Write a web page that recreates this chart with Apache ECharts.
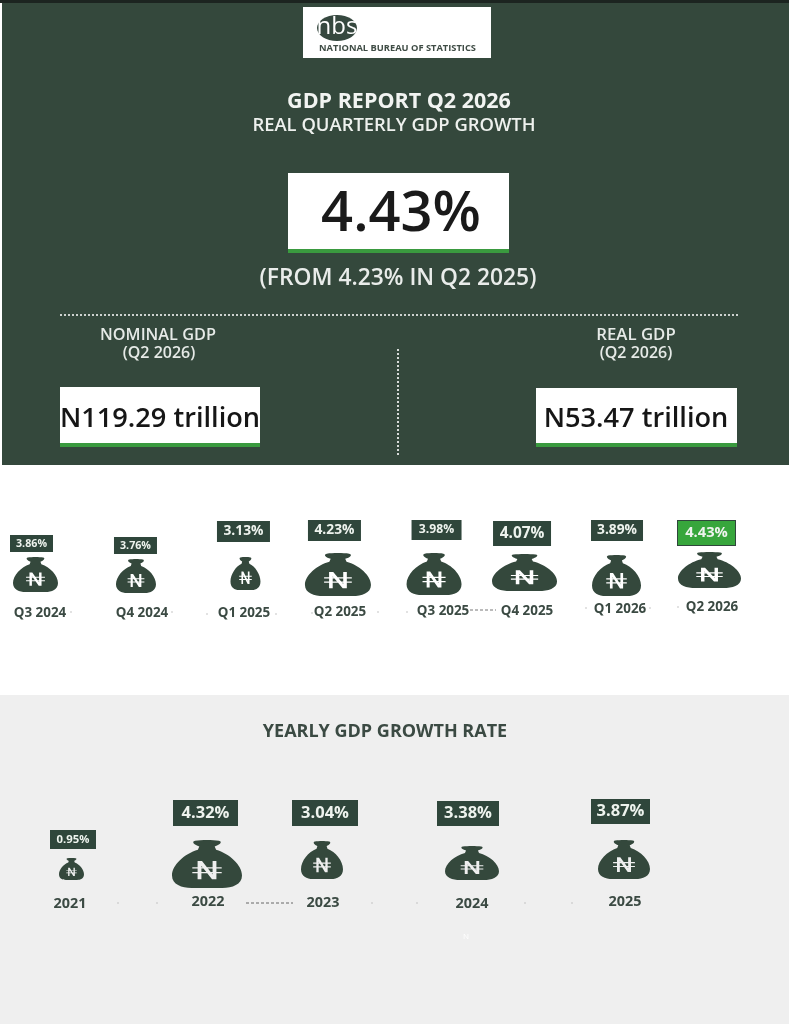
<!DOCTYPE html>
<html>
<head>
<meta charset="utf-8">
<style>html,body{margin:0;padding:0;background:#fff}#c{width:789px;height:1024px}</style>
<script src="https://cdn.jsdelivr.net/npm/echarts@6/dist/echarts.min.js"></script>
</head>
<body>
<div id="c"></div>
<script>
// ---------- data ----------
const quarters = ['Q3 2024','Q4 2024','Q1 2025','Q2 2025','Q3 2025','Q4 2025','Q1 2026','Q2 2026'];
const quarterGrowth = [3.86,3.76,3.13,4.23,3.98,4.07,3.89,4.43];
const years = ['2021','2022','2023','2024','2025'];
const yearGrowth = [0.95,4.32,3.04,3.38,3.87];
const headlineGrowth = '4.43%';
const previousGrowth = '(FROM 4.23% IN Q2 2025)';
const nominalGdp = 'N119.29 trillion';
const realGdp = 'N53.47 trillion';

// ---------- styling and nudges (px, relative to each category's position) ----------
const DARK='#34483c', CHIP='#2f463b', GREEN='#3a9a3f', INK='#3b4a43', GREY='#efefef';
const quarterStyle = {
  bagSize:[[45,35],[40,34],[30,33],[66,43],[55,42],[65,37],[49,41],[63,36]],
  bagNudge:[[.5,-.5],[4.7,1],[17.9,-1.5],[14.1,-.5],[13.9,-1],[8.1,-2.5],[3.8,.5],[.5,-5]],
  chipSize:[[43,17],[43,17],[53,21],[53,21],[50,20],[58,25],[52,21],[57,24]],
  chipNudge:[[-3.5,-31.5],[4.2,-29.5],[15.9,-43.5],[10.6,-44.5],[16.4,-45],[5.6,-41.5],[4.3,-44.5],[-2.5,-42]],
  chipFont:[10.7,10.7,13.8,13.8,12.2,15.4,13.8,14.7],
  nameNudge:[[5,38],[10.7,38],[16.4,38],[16.1,37],[22.9,36],[10.6,36],[7.3,34],[3,32]],
  nameFont:13.4, highlight:7, glyph:.42
};
const yearStyle = {
  bagSize:[[25,22],[70,48],[42,38],[54,34],[52,39]],
  bagNudge:[[.5,4],[-2.25,-1],[-25.5,-5],[-13.75,-2],[0,-5.5]],
  chipSize:[[46,19],[65,26],[66,26],[62,25],[59,25]],
  chipNudge:[[2,-25.5],[-3.75,-52],[-22.5,-52],[-17.75,-51.5],[-3.5,-53.5]],
  chipFont:[11.3,16.5,16.5,16.5,16.5],
  nameNudge:[[-1,39],[-1.25,37],[-24.5,38],[-13.75,39],[1,37]],
  nameFont:14.4, highlight:-1, glyph:.42
};
const BAG='path://M33 1C42 -1 58 -1 67 1C73 3 68 10 61 13L63 20C82 28 100 52 100 74C100 93 86 100 72 100L28 100C14 100 0 93 0 74C0 52 18 28 37 20L39 13C32 10 27 3 33 1Z';
const NAIRA='path://M18 0L31 0L31 100L18 100ZM69 0L82 0L82 100L69 100ZM18 0L33 0L82 100L67 100ZM0 33L100 33L100 41L0 41ZM0 59L100 59L100 67L0 67Z';
const FONT='"Open Sans","Noto Sans",sans-serif';

function rowSeries(cats, vals, st, axis, bg){
  const base = {type:'scatter', xAxisIndex:axis, yAxisIndex:axis, silent:true, animation:false};
  const pts = vals.map((v,i)=>[cats[i],0,v]);
  const bags = Object.assign({},base,{name:'bag',z:3,data:pts.map((p,i)=>({
    value:p, symbol:BAG, symbolSize:st.bagSize[i], symbolOffset:st.bagNudge[i],
    itemStyle:{color:DARK,opacity:1}}))});
  const marks = Object.assign({},base,{name:'naira',z:4,data:pts.map((p,i)=>{
    const s=st.bagSize[i];
    return {value:p, symbol:NAIRA,
      symbolSize:[s[0]*st.glyph,s[1]*.38],
      symbolOffset:[st.bagNudge[i][0],st.bagNudge[i][1]+s[1]*.13],
      itemStyle:{color:bg,opacity:1}};
  })});
  const chips = Object.assign({},base,{name:'growth',z:5,data:pts.map((p,i)=>{
    const c=st.chipSize[i], hi=i===st.highlight;
    return {value:p, symbol:'circle', symbolSize:1, itemStyle:{color:'rgba(0,0,0,0)',opacity:1},
      label:{show:true, position:'inside', offset:st.chipNudge[i],
        formatter:o=>o.value[2].toFixed(2)+'%',
        width:c[0], height:c[1]-2, lineHeight:c[1]-2, padding:[2,0,0,0], align:'center', verticalAlign:'middle',
        backgroundColor:hi?'#37a63c':CHIP, borderColor:hi?CHIP:'transparent', borderWidth:hi?1:0,
        color:'#eef3ee', fontFamily:FONT, fontWeight:700, fontSize:st.chipFont[i]}};
  })});
  const names = Object.assign({},base,{name:'period',z:5,data:pts.map((p,i)=>({
    value:p, symbol:'circle', symbolSize:1, itemStyle:{color:'rgba(0,0,0,0)',opacity:1},
    label:{show:true, position:'inside', offset:st.nameNudge[i], formatter:o=>o.value[0],
      color:INK, fontFamily:FONT, fontWeight:700, fontSize:st.nameFont}
  }))});
  return [bags,marks,chips,names];
}

function rect(x,y,w,h,fill){return {type:'rect',shape:{x,y,width:w,height:h},style:{fill},silent:true};}
function txt(x,y,t,size,fill,weight,z){return {type:'text',x,y:y+1.5,z:z||1,silent:true,style:{text:t,fill,font:(weight||700)+' '+size+'px '+FONT,textAlign:'center',textVerticalAlign:'middle'}};}
function dash(x1,y1,x2,y2,c,w,d){return {type:'line',shape:{x1,y1,x2,y2},silent:true,style:{stroke:c,lineWidth:w,lineDash:d}};}
const specks=[[71,612],[172,612],[207,614],[276,614],[312,613],[378,612],[407,612],[586,608],[650,608],[678,607],[118,903],[157,903],[372,903],[417,903],[525,903],[572,903]];

const graphic=[
  rect(0,0,789,1024,'#ffffff'),
  rect(2,3,787,462,DARK),
  rect(0,0,789,3,'#1c2420'),
  rect(0,695,789,329,GREY),
  // logo
  rect(303,7,188,51,'#ffffff'),
  {type:'ellipse',shape:{cx:337,cy:28,rx:20,ry:13},style:{fill:'#36483f'},silent:true},
  txt(337,26,'nbs',24,'#ffffff',400),
  txt(397.5,47,'NATIONAL BUREAU OF STATISTICS',9.3,'#3f4c45',700),
  // headline
  txt(399,100,'GDP REPORT Q2 2026',21.5,'#f2f4f2',700),
  txt(394,124,'REAL QUARTERLY GDP GROWTH',18.4,'#eef1ee',600),
  rect(288,173,221,80,'#ffffff'), rect(288,249,221,4,GREEN),
  txt(401,214,headlineGrowth,56,'#1a1a1a',600),
  txt(398,277,previousGrowth,22.8,'#e9ecea',600),
  dash(60,315,738,315,'#ffffff',1.6,[2,2]),
  dash(398,349,398,456,'#ffffff',1.6,[2,2]),
  txt(158,334,'NOMINAL GDP',16.3,'#e6eae7',600),
  txt(159,352,'(Q2 2026)',16,'#e6eae7',600),
  txt(636,334,'REAL GDP',16.8,'#e6eae7',600),
  txt(636,352,'(Q2 2026)',16,'#e6eae7',600),
  rect(60,387,200,60,'#ffffff'), rect(60,443,200,4,GREEN),
  txt(160,418,nominalGdp,27.2,'#161616',600),
  rect(536,388,201,59,'#ffffff'), rect(536,443,201,4,GREEN),
  txt(636,418,realGdp,27.2,'#161616',600),
  // yearly section
  txt(385,730,'YEARLY GDP GROWTH RATE',18,INK,700),
  dash(470,610,496,610,'#777777',1,[3,2]),
  dash(246,903,293,903,'#666666',1,[3,2]),
  txt(466,935,'N',8,'#ffffff',400)
].concat(specks.map(p=>({type:'circle',shape:{cx:p[0],cy:p[1],r:.8},style:{fill:'#bdbdbd'},silent:true})));

const axisOff={show:false};
const option={
  backgroundColor:'#ffffff', animation:false, graphic:{elements:graphic},
  grid:[
    {left:35,width:674,top:565,height:20},
    {left:71,width:553,top:855,height:20}
  ],
  xAxis:[
    Object.assign({type:'category',data:quarters,boundaryGap:false,gridIndex:0},axisOff),
    Object.assign({type:'category',data:years,boundaryGap:false,gridIndex:1},axisOff)
  ],
  yAxis:[
    Object.assign({type:'value',min:-1,max:1,gridIndex:0},axisOff),
    Object.assign({type:'value',min:-1,max:1,gridIndex:1},axisOff)
  ],
  series:rowSeries(quarters,quarterGrowth,quarterStyle,0,'#ffffff')
    .concat(rowSeries(years,yearGrowth,yearStyle,1,GREY))
};
echarts.init(document.getElementById('c'),null,{renderer:'canvas'}).setOption(option);
</script>
</body>
</html>
